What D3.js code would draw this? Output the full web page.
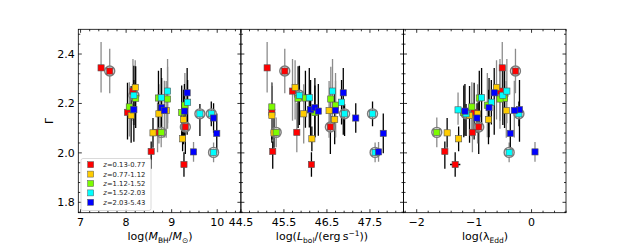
<!DOCTYPE html>
<html><head><meta charset="utf-8">
<script src="https://cdn.jsdelivr.net/npm/d3@7/dist/d3.min.js"></script>
<style>
html,body{margin:0;padding:0;background:#fff;}
svg{display:block;font-family:"DejaVu Sans",sans-serif;}
</style></head>
<body>
<svg id="chart" width="630" height="245"></svg>
<script>
// ---- data ----
const zLabels = ["0.13-0.77","0.77-1.12","1.12-1.52","1.52-2.03","2.03-5.43"];
const zColors = ["#ff0000","#ffcc00","#7cfc00","#00ffff","#0000ff"];
// objects: 8 red, 7 yellow, 7 green, 8 cyan, 8 blue
const zbin = [0,0,0,0,0,0,0,0, 1,1,1,1,1,1,1, 2,2,2,2,2,2,2, 3,3,3,3,3,3,3,3, 4,4,4,4,4,4,4,4];
const gamma = [2.344,2.331,2.25,2.164,2.083,2.006,1.953,2.105,
               2.265,2.151,2.081,2.158,2.135,2.057,2.171,
               2.186,2.221,2.083,2.222,2.218,2.163,2.193,
               2.233,2.223,2.25,2.205,2.158,2.158,2.002,2.174,
               2.175,2.183,2.172,2.169,2.243,2.004,2.141,2.079];
const gammaErrLo = [0.10,0.09,0.12,0.11,0.08,0.07,0.05,0.11,
                    0.13,0.11,0.06,0.12,0.10,0.05,0.11,
                    0.12,0.12,0.06,0.12,0.12,0.10,0.13,
                    0.12,0.12,0.13,0.09,0.09,0.05,0.04,0.06,
                    0.13,0.12,0.11,0.10,0.17,0.04,0.06,0.08];
const gammaErrHi = [0.105,0.09,0.13,0.12,0.12,0.04,0.05,0.10,
                    0.11,0.12,0.06,0.12,0.12,0.05,0.12,
                    0.10,0.13,0.06,0.11,0.13,0.11,0.13,
                    0.12,0.12,0.13,0.09,0.04,0.05,0.04,0.07,
                    0.12,0.12,0.12,0.11,0.10,0.04,0.06,0.08];
const logMBH = [7.45,7.64,8.15,8.03,8.69,8.55,9.27,9.3,
                8.2,8.11,8.59,8.72,9.26,9.24,8.88,
                8.07,8.21,8.77,8.71,8.91,9.22,9.29,
                8.17,8.77,8.91,9.35,9.62,9.87,9.92,8.16,
                8.17,8.78,8.84,9.28,9.34,9.48,9.92,9.99];
const logLbol = [45.11,45.52,45.7,45.22,45.8,45.24,46.14,46.58,
                 45.76,45.22,45.27,45.96,46.68,46.15,46.55,
                 45.22,45.83,45.32,46.0,46.59,46.22,46.7,
                 45.86,46.09,46.63,46.84,46.91,47.56,47.62,46.12,
                 46.12,46.22,46.7,46.3,46.88,47.7,47.17,47.81];
const logEdd = [-0.51,-0.28,-0.55,-1.0,-1.03,-1.51,-1.33,-0.92,
                -0.61,-1.08,-1.47,-0.94,-0.75,-1.27,-0.44,
                -1.04,-0.47,-1.65,-0.91,-0.55,-1.18,-0.77,
                -0.5,-0.87,-0.43,-0.7,-1.14,-0.22,-0.39,-1.28,
                -0.21,-0.74,-0.3,-1.16,-0.65,0.06,-0.95,-0.37];
const logEddErr = [0,0,0,0,0,0,0.09,0,
                   0,0,0,0,0,0,0,
                   0,0,0,0,0,0,0,
                   0,0,0,0,0,0,0,0,
                   0,0,0,0,0,0,0,0];
const circled = [0,1,0,0,0,0,0,1, 0,0,0,0,0,0,0, 0,0,1,0,0,0,0, 1,0,0,0,1,1,1,0, 0,0,0,0,0,0,0,0];
const barDark = [0,0,0,1,0,1,1,1, 0,1,1,0,1,1,0, 0,1,0,1,0,1,0, 1,1,0,1,1,1,0,0, 1,1,0,1,1,0,1,1];
const yTicks = [1.8,2.0,2.2,2.4];
const yTickLabels = ["1.8","2.0","2.2","2.4"];
const xTicks1 = [7,8,9,10];
const xTicks2 = [44.5,45.5,46.5,47.5];
const xTicks3 = [-2,-1,0];

// ---- layout ----
const svg = d3.select("#chart");
const yTop = 29.3, yBot = 212.7;
const panelX = [78.3, 240.9, 403.5, 566];
const y = d3.scaleLinear().domain([1.758, 2.5]).range([yBot, yTop]);

const panels = [
  {domain:[6.95,10.52], ticks:xTicks1, minorStart:7, xv:logMBH, xe:null, labels:true},
  {domain:[44.5,48.28], ticks:xTicks2, minorStart:44.5, xv:logLbol, xe:null},
  {domain:[-2.23,0.6], ticks:xTicks3, minorStart:-2, xv:logEdd, xe:logEddErr}
];

const idx = d3.range(gamma.length);
const order = idx.slice().sort((a,b)=>zbin[a]-zbin[b] || a-b);

panels.forEach((p,pi)=>{
  const x = d3.scaleLinear().domain(p.domain).range([panelX[pi], panelX[pi+1]]);
  const g = svg.append("g");
  const cid = "clip"+pi;
  svg.append("clipPath").attr("id",cid).append("rect")
    .attr("x",panelX[pi]).attr("y",yTop).attr("width",panelX[pi+1]-panelX[pi]).attr("height",yBot-yTop);
  const data = g.append("g").attr("clip-path",`url(#${cid})`);

  data.selectAll("line.ey").data(order).join("line")
    .attr("x1",i=>x(p.xv[i])).attr("x2",i=>x(p.xv[i]))
    .attr("y1",i=>y(gamma[i]-gammaErrLo[i])).attr("y2",i=>y(gamma[i]+gammaErrHi[i]))
    .attr("stroke",i=>barDark[i]?"#000":"#8c8c8c").attr("stroke-width",1.3);
  if (p.xe) {
    data.selectAll("line.ex").data(order.filter(i=>p.xe[i]>0)).join("line")
      .attr("x1",i=>x(p.xv[i]-p.xe[i])).attr("x2",i=>x(p.xv[i]+p.xe[i]))
      .attr("y1",i=>y(gamma[i])).attr("y2",i=>y(gamma[i]))
      .attr("stroke",i=>barDark[i]?"#000":"#8c8c8c").attr("stroke-width",1.3);
  }
  data.selectAll("circle").data(order.filter(i=>circled[i])).join("circle")
    .attr("cx",i=>x(p.xv[i])).attr("cy",i=>y(gamma[i])).attr("r",5)
    .attr("fill","#e6e6e6").attr("fill-opacity",0.6)
    .attr("stroke","#7a7a7a").attr("stroke-width",1.4);
  const s = 6.2;
  data.selectAll("rect.sq").data(order).join("rect")
    .attr("x",i=>x(p.xv[i])-s/2).attr("y",i=>y(gamma[i])-s/2)
    .attr("width",s).attr("height",s)
    .attr("fill",i=>zColors[zbin[i]])
    .attr("stroke","#555").attr("stroke-width",0.6);

  g.append("rect").attr("x",panelX[pi]).attr("y",yTop)
    .attr("width",panelX[pi+1]-panelX[pi]).attr("height",yBot-yTop)
    .attr("fill","none").attr("stroke","#000").attr("stroke-width",0.8);

  const ax = g.append("g").attr("stroke","#000").attr("stroke-width",0.8);
  const minorX = d3.range(Math.ceil((p.domain[0]-p.minorStart)/0.2-1e-9), Math.floor((p.domain[1]-p.minorStart)/0.2+1e-9)+1)
      .map(k=>p.minorStart+k*0.2);
  minorX.forEach(v=>{
    const isMajor = p.ticks.some(t=>Math.abs(t-v)<1e-6);
    const L = isMajor?3.5:2;
    ax.append("line").attr("x1",x(v)).attr("x2",x(v)).attr("y1",yBot).attr("y2",yBot-L);
    ax.append("line").attr("x1",x(v)).attr("x2",x(v)).attr("y1",yTop).attr("y2",yTop+L);
  });
  const minorY = d3.range(0,19).map(k=>1.76+k*0.04).filter(v=>v>=1.758 && v<=2.5);
  minorY.forEach(v=>{
    const isMajor = yTicks.some(t=>Math.abs(t-v)<1e-6);
    const L = isMajor?3.5:2;
    ax.append("line").attr("x1",panelX[pi]).attr("x2",panelX[pi]+L).attr("y1",y(v)).attr("y2",y(v));
    ax.append("line").attr("x1",panelX[pi+1]).attr("x2",panelX[pi+1]-L).attr("y1",y(v)).attr("y2",y(v));
  });
  g.selectAll("text.xt").data(p.ticks).join("text")
    .attr("x",d=>x(d)).attr("y",225.5).attr("text-anchor","middle")
    .attr("font-size",11).attr("fill","#000")
    .text(d=>d<0?"\u2212"+Math.abs(d):String(d));
  if (p.labels) {
    g.selectAll("text.yt").data(yTicks).join("text")
      .attr("x",panelX[0]-3.5).attr("y",d=>y(d)+4).attr("text-anchor","end")
      .attr("font-size",11).attr("fill","#000")
      .text((d,i)=>yTickLabels[i]);
  }
});

function label(cx, parts){
  const t = svg.append("text").attr("x",cx).attr("y",240).attr("text-anchor","middle")
    .attr("font-size",11).attr("fill","#000");
  parts.forEach(pt=>{
    const ts = t.append("tspan").text(pt.t);
    if (pt.i) ts.attr("font-style","italic");
    if (pt.sub) ts.attr("font-size",7.5).attr("dy",2.5);
    if (pt.sup) ts.attr("font-size",7.5).attr("dy",-4);
    if (pt.back) ts.attr("dy",pt.back);
  });
}
label(160,[{t:"log("},{t:"M",i:1},{t:"BH",sub:1},{t:"/",back:-2.5},{t:"M",i:1},{t:"\u2299",sub:1},{t:")",back:-2.5}]);
label(322,[{t:"log("},{t:"L",i:1},{t:"bol",sub:1},{t:"/(erg\u2009s",back:-2.5},{t:"\u22121",sup:1},{t:"))",back:4}]);
label(485,[{t:"log(\u03bb"},{t:"Edd",sub:1},{t:")",back:-2.5}]);

svg.append("text").attr("transform","translate(53,121) rotate(-90)")
  .attr("text-anchor","middle").attr("font-size",11).text("\u0393");

const lg = svg.append("g");
lg.append("rect").attr("x",81).attr("y",158.5).attr("width",70).attr("height",52)
  .attr("rx",2).attr("fill","#fff").attr("fill-opacity",0.8)
  .attr("stroke","#d0d0d0").attr("stroke-width",0.8);
zLabels.forEach((lab,k)=>{
  const cy = 164.7 + k*9.4;
  lg.append("rect").attr("x",90.7-3).attr("y",cy-3).attr("width",6).attr("height",6)
    .attr("fill",zColors[k]).attr("stroke","#555").attr("stroke-width",0.5);
  const t = lg.append("text").attr("x",103.3).attr("y",cy+2.4).attr("font-size",6.8).attr("fill","#222");
  t.append("tspan").attr("font-style","italic").text("z");
  t.append("tspan").text("="+lab);
});
</script>
</body></html>
